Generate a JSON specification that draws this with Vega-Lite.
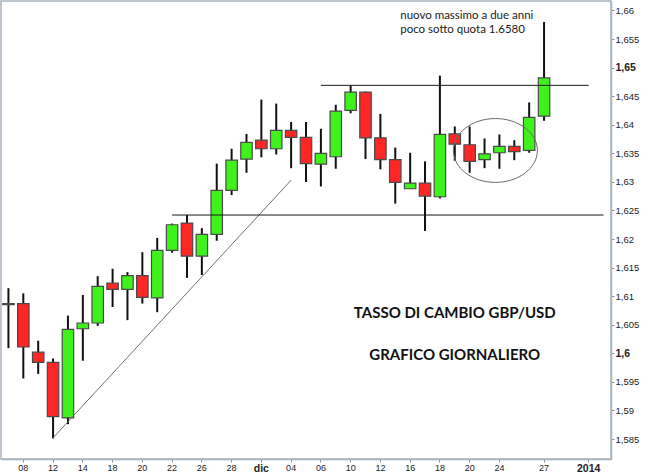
{
  "$schema": "https://vega.github.io/schema/vega-lite/v6.json",
  "autosize": {"type": "none"},
  "width": 610,
  "height": 458,
  "padding": {"left": 1, "top": 1, "right": 39, "bottom": 15},
  "background": "white",
  "config": {
    "view": {"stroke": "#a9b3bc", "strokeWidth": 1.5},
    "axis": {
      "grid": false,
      "labelFont": "Liberation Sans",
      "labelFontSize": 9.5,
      "labelColor": "#222222",
      "tickColor": "#8a949c",
      "tickSize": 3,
      "labelPadding": 1,
      "labelOverlap": false,
      "domainColor": "#a9b3bc",
      "domainWidth": 1.5
    }
  },
  "datasets": {
    "candles": [
      {"date": "2013-11-07", "open": 1.6085, "high": 1.6114, "low": 1.6009, "close": 1.6087},
      {"date": "2013-11-08", "open": 1.6087, "high": 1.6105, "low": 1.5956, "close": 1.6011},
      {"date": "2013-11-11", "open": 1.6002, "high": 1.6022, "low": 1.5964, "close": 1.5984},
      {"date": "2013-11-12", "open": 1.5984, "high": 1.5991, "low": 1.5851, "close": 1.5889},
      {"date": "2013-11-13", "open": 1.5887, "high": 1.6066, "low": 1.5876, "close": 1.6042},
      {"date": "2013-11-14", "open": 1.6043, "high": 1.6102, "low": 1.5987, "close": 1.6053},
      {"date": "2013-11-15", "open": 1.6053, "high": 1.6135, "low": 1.6048, "close": 1.6117},
      {"date": "2013-11-18", "open": 1.6123, "high": 1.6148, "low": 1.6081, "close": 1.6112},
      {"date": "2013-11-19", "open": 1.6112, "high": 1.6142, "low": 1.6058, "close": 1.6136},
      {"date": "2013-11-20", "open": 1.6136, "high": 1.6177, "low": 1.6087, "close": 1.6098},
      {"date": "2013-11-21", "open": 1.6097, "high": 1.6202, "low": 1.6072, "close": 1.6180},
      {"date": "2013-11-22", "open": 1.6180, "high": 1.6227, "low": 1.6176, "close": 1.6225},
      {"date": "2013-11-25", "open": 1.6228, "high": 1.6242, "low": 1.6132, "close": 1.6170},
      {"date": "2013-11-26", "open": 1.6170, "high": 1.6219, "low": 1.6137, "close": 1.6208},
      {"date": "2013-11-27", "open": 1.6208, "high": 1.6332, "low": 1.6197, "close": 1.6285},
      {"date": "2013-11-28", "open": 1.6285, "high": 1.6358, "low": 1.6277, "close": 1.6338},
      {"date": "2013-11-29", "open": 1.6340, "high": 1.6384, "low": 1.6316, "close": 1.6369},
      {"date": "2013-12-02", "open": 1.6373, "high": 1.6444, "low": 1.6343, "close": 1.6358},
      {"date": "2013-12-03", "open": 1.6358, "high": 1.6437, "low": 1.6348, "close": 1.6390},
      {"date": "2013-12-04", "open": 1.6390, "high": 1.6405, "low": 1.6324, "close": 1.6378},
      {"date": "2013-12-05", "open": 1.6378, "high": 1.6405, "low": 1.6300, "close": 1.6332},
      {"date": "2013-12-06", "open": 1.6331, "high": 1.6393, "low": 1.6292, "close": 1.6350},
      {"date": "2013-12-09", "open": 1.6344, "high": 1.6435, "low": 1.6323, "close": 1.6424},
      {"date": "2013-12-10", "open": 1.6425, "high": 1.6469, "low": 1.6420, "close": 1.6457},
      {"date": "2013-12-11", "open": 1.6457, "high": 1.6458, "low": 1.6340, "close": 1.6377},
      {"date": "2013-12-12", "open": 1.6377, "high": 1.6419, "low": 1.6322, "close": 1.6339},
      {"date": "2013-12-13", "open": 1.6339, "high": 1.6360, "low": 1.6262, "close": 1.6299},
      {"date": "2013-12-16", "open": 1.6288, "high": 1.6351, "low": 1.6288, "close": 1.6298},
      {"date": "2013-12-17", "open": 1.6298, "high": 1.6336, "low": 1.6214, "close": 1.6275},
      {"date": "2013-12-18", "open": 1.6274, "high": 1.6486, "low": 1.6271, "close": 1.6383},
      {"date": "2013-12-19", "open": 1.6384, "high": 1.6397, "low": 1.6337, "close": 1.6366},
      {"date": "2013-12-20", "open": 1.6365, "high": 1.6397, "low": 1.6316, "close": 1.6336},
      {"date": "2013-12-23", "open": 1.6339, "high": 1.6376, "low": 1.6324, "close": 1.6349},
      {"date": "2013-12-24", "open": 1.6351, "high": 1.6383, "low": 1.6323, "close": 1.6362},
      {"date": "2013-12-25", "open": 1.6362, "high": 1.6373, "low": 1.6338, "close": 1.6353},
      {"date": "2013-12-26", "open": 1.6355, "high": 1.6439, "low": 1.6351, "close": 1.6413},
      {"date": "2013-12-27", "open": 1.6415, "high": 1.6580, "low": 1.6407, "close": 1.6482}
    ],
    "trend": [
      {"date": "2013-11-12", "value": 1.5852},
      {"date": "2013-12-04", "value": 1.6303}
    ],
    "levels": [
      {"line": "resistenza", "date": "2013-12-06", "value": 1.6469},
      {"line": "resistenza", "date": "2014-01-01", "value": 1.6469},
      {"line": "supporto", "date": "2013-11-22", "value": 1.6242},
      {"line": "supporto", "date": "2014-01-02", "value": 1.6242}
    ],
    "ellipse": [
      {"date": "2013-12-24", "value": 1.6355}
    ],
    "notes": [
      {"date": "2013-12-13", "value": 1.6590, "text": "nuovo massimo a due anni"},
      {"date": "2013-12-13", "value": 1.6566, "text": "poco sotto quota 1.6580"}
    ],
    "titles": [
      {"date": "2013-12-19", "value": 1.6070, "text": "TASSO DI CAMBIO GBP/USD"},
      {"date": "2013-12-19", "value": 1.5997, "text": "GRAFICO GIORNALIERO"}
    ]
  },
  "encoding": {
    "x": {
      "field": "date",
      "type": "ordinal",
      "title": null,
      "scale": {
        "type": "band",
        "paddingInner": 0,
        "paddingOuter": 0,
        "domain": [
          "2013-11-07", "2013-11-08", "2013-11-11", "2013-11-12", "2013-11-13", "2013-11-14", "2013-11-15",
          "2013-11-18", "2013-11-19", "2013-11-20", "2013-11-21", "2013-11-22", "2013-11-25", "2013-11-26",
          "2013-11-27", "2013-11-28", "2013-11-29", "2013-12-02", "2013-12-03", "2013-12-04", "2013-12-05",
          "2013-12-06", "2013-12-09", "2013-12-10", "2013-12-11", "2013-12-12", "2013-12-13", "2013-12-16",
          "2013-12-17", "2013-12-18", "2013-12-19", "2013-12-20", "2013-12-23", "2013-12-24", "2013-12-25",
          "2013-12-26", "2013-12-27", "2013-12-30", "2013-12-31", "2014-01-01", "2014-01-02"
        ]
      },
      "axis": {
        "orient": "bottom",
        "bandPosition": 0.5,
        "labelAngle": 0,
        "labelOverlap": false,
        "values": [
          "2013-11-08", "2013-11-12", "2013-11-14", "2013-11-18", "2013-11-20", "2013-11-22", "2013-11-26",
          "2013-11-28", "2013-12-02", "2013-12-04", "2013-12-06", "2013-12-10", "2013-12-12", "2013-12-16",
          "2013-12-18", "2013-12-20", "2013-12-24", "2013-12-27", "2014-01-01"
        ],
        "labelExpr": "datum.value == '2013-12-02' ? 'dic' : (datum.value == '2014-01-01' ? '2014' : substring(datum.value, 8, 10))",
        "labelFontWeight": {"expr": "datum.value == '2013-12-02' || datum.value == '2014-01-01' ? 'bold' : 'normal'"},
        "labelFontSize": {"expr": "datum.value == '2013-12-02' || datum.value == '2014-01-01' ? 10.5 : 9"}
      }
    }
  },
  "layer": [
    {
      "data": {"name": "candles"},
      "mark": {"type": "rule", "color": "#111111", "strokeWidth": 2},
      "encoding": {
        "y": {
          "field": "low",
          "type": "quantitative",
          "title": null,
          "scale": {"domain": [1.5815, 1.66166], "nice": false, "zero": false},
          "axis": {
            "orient": "right",
            "tickCount": 40,
            "labelOverlap": false,
            "labelBound": false,
            "labelFlush": false,
            "values": [1.585, 1.59, 1.595, 1.6, 1.605, 1.61, 1.615, 1.62, 1.625, 1.63, 1.635, 1.64, 1.645, 1.65, 1.655, 1.66],
            "labelExpr": "replace(format(datum.value, '.4~f'), '.', ',')",
            "labelFontWeight": {"expr": "abs(datum.value - 1.6) < 0.000001 || abs(datum.value - 1.65) < 0.000001 ? 'bold' : 'normal'"},
            "labelFontSize": {"expr": "abs(datum.value - 1.6) < 0.000001 || abs(datum.value - 1.65) < 0.000001 ? 10.5 : 9.5"}
          }
        },
        "y2": {"field": "high"}
      }
    },
    {
      "data": {"name": "candles"},
      "mark": {"type": "bar", "width": {"band": 0.77}, "stroke": "#4a4a4a", "strokeWidth": 1.2},
      "encoding": {
        "y": {"field": "open", "type": "quantitative", "title": null},
        "y2": {"field": "close"},
        "color": {
          "condition": {"test": "datum.close >= datum.open", "value": "#3ff21c"},
          "value": "#ff2626"
        }
      }
    },
    {
      "data": {"name": "trend"},
      "mark": {"type": "line", "color": "#707070", "strokeWidth": 1},
      "encoding": {
        "y": {"field": "value", "type": "quantitative", "title": null}
      }
    },
    {
      "data": {"name": "levels"},
      "mark": {"type": "line", "color": "#1a1a1a", "strokeWidth": 1},
      "encoding": {
        "y": {"field": "value", "type": "quantitative", "title": null},
        "detail": {"field": "line"}
      }
    },
    {
      "data": {"name": "ellipse"},
      "mark": {
        "type": "point",
        "shape": "M-1,0 C-1,-0.42 -0.552,-0.76 0,-0.76 C0.552,-0.76 1,-0.42 1,0 C1,0.42 0.552,0.76 0,0.76 C-0.552,0.76 -1,0.42 -1,0 Z",
        "size": 7056,
        "filled": false,
        "opacity": 1,
        "stroke": "#6a6a6a",
        "strokeWidth": 1,
        "xOffset": -4
      },
      "encoding": {
        "y": {"field": "value", "type": "quantitative", "title": null}
      }
    },
    {
      "data": {"name": "notes"},
      "mark": {"type": "text", "align": "left", "baseline": "middle", "dx": 5, "font": "Lato", "fontSize": 11.5, "color": "#1a1a1a"},
      "encoding": {
        "y": {"field": "value", "type": "quantitative", "title": null},
        "text": {"field": "text"}
      }
    },
    {
      "data": {"name": "titles"},
      "mark": {"type": "text", "align": "center", "baseline": "middle", "font": "Lato", "fontSize": 15, "fontWeight": "bold", "color": "#111111"},
      "encoding": {
        "y": {"field": "value", "type": "quantitative", "title": null},
        "text": {"field": "text"}
      }
    }
  ]
}
